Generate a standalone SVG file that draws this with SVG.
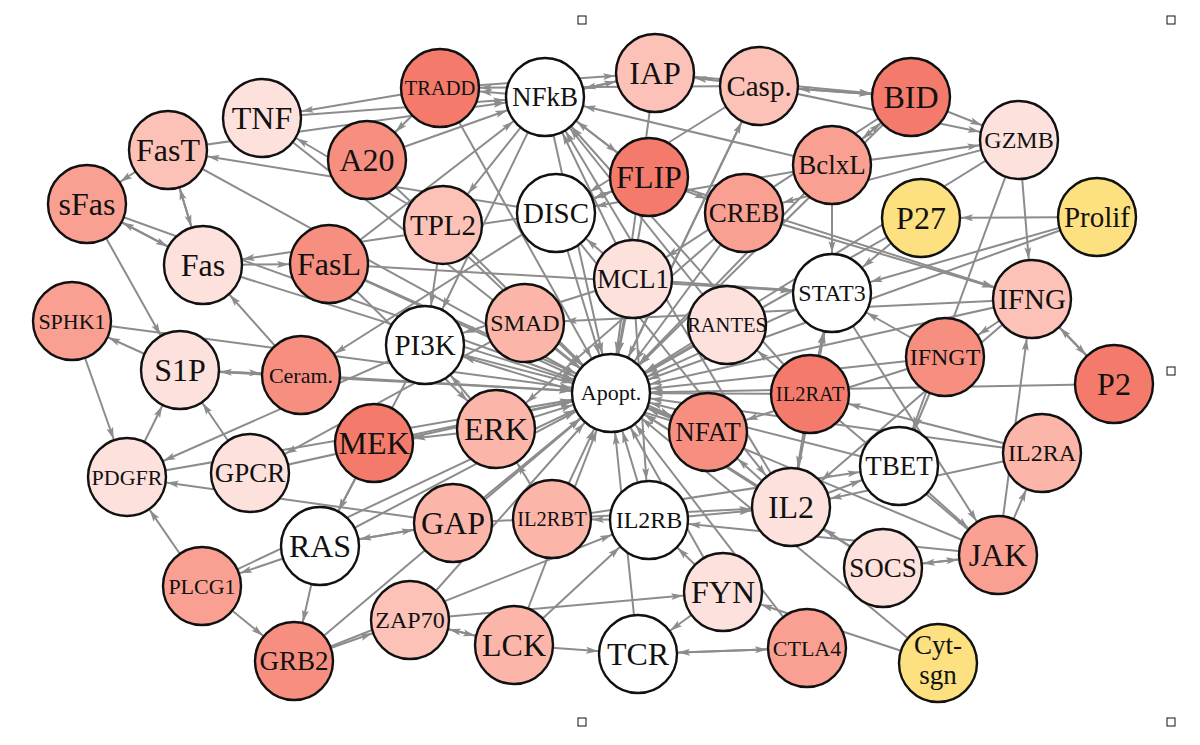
<svg xmlns="http://www.w3.org/2000/svg" width="1200" height="745" viewBox="0 0 1200 745">
<style>
.edges line{stroke:#8c8c8c;stroke-width:2;marker-end:url(#a);fill:none}
.n circle{stroke:#111;stroke-width:2.4}
.n text{font-family:"Liberation Serif","Times New Roman",serif;text-anchor:middle;fill:#111}
.c0{fill:#ffffff}.c1{fill:#fde1dd}.c2{fill:#fcc2b7}.c3{fill:#fcb6a9}.c4{fill:#f9a092}.c5{fill:#f78f81}.c6{fill:#f47b6b}.cy{fill:#fde07f}
.f32{font-size:32px}.f29{font-size:29px}.f27{font-size:27px}.f24{font-size:24px}.f22{font-size:22px}.f20{font-size:20.5px}
.h{fill:#fff;stroke:#111;stroke-width:1}
</style>
<defs>
<marker id="a" viewBox="0 0 12 8" refX="52" refY="4" markerWidth="12" markerHeight="8" markerUnits="userSpaceOnUse" orient="auto">
<path d="M0,0.5 L12,4 L0,7.5 L2.5,4z" fill="#8c8c8c"/>
</marker>
</defs>
<rect width="1200" height="745" fill="#fff"/>
<g id="connectors" class="edges">
<line x1="262" y1="118" x2="611" y2="393"/>
<line x1="168" y1="150" x2="611" y2="393"/>
<line x1="87" y1="204" x2="611" y2="393"/>
<line x1="440" y1="88" x2="611" y2="393"/>
<line x1="545" y1="97" x2="611" y2="393"/>
<line x1="367" y1="160" x2="611" y2="393"/>
<line x1="443" y1="225" x2="611" y2="393"/>
<line x1="556" y1="213" x2="611" y2="393"/>
<line x1="655" y1="73" x2="611" y2="393"/>
<line x1="759" y1="86" x2="611" y2="393"/>
<line x1="911" y1="97" x2="611" y2="393"/>
<line x1="649" y1="177" x2="611" y2="393"/>
<line x1="832" y1="165" x2="611" y2="393"/>
<line x1="744" y1="213" x2="611" y2="393"/>
<line x1="1019" y1="140" x2="611" y2="393"/>
<line x1="921" y1="218" x2="611" y2="393"/>
<line x1="1097" y1="217" x2="611" y2="393"/>
<line x1="203" y1="265" x2="611" y2="393"/>
<line x1="329" y1="264" x2="611" y2="393"/>
<line x1="72" y1="321" x2="611" y2="393"/>
<line x1="180" y1="370" x2="611" y2="393"/>
<line x1="301" y1="375" x2="611" y2="393"/>
<line x1="127" y1="477" x2="611" y2="393"/>
<line x1="250" y1="473" x2="611" y2="393"/>
<line x1="425" y1="345" x2="611" y2="393"/>
<line x1="525" y1="323" x2="611" y2="393"/>
<line x1="374" y1="443" x2="611" y2="393"/>
<line x1="496" y1="429" x2="611" y2="393"/>
<line x1="633" y1="279" x2="611" y2="393"/>
<line x1="727" y1="325" x2="611" y2="393"/>
<line x1="832" y1="293" x2="611" y2="393"/>
<line x1="810" y1="394" x2="611" y2="393"/>
<line x1="708" y1="432" x2="611" y2="393"/>
<line x1="899" y1="466" x2="611" y2="393"/>
<line x1="791" y1="507" x2="611" y2="393"/>
<line x1="1032" y1="299" x2="611" y2="393"/>
<line x1="945" y1="357" x2="611" y2="393"/>
<line x1="1114" y1="384" x2="611" y2="393"/>
<line x1="1042" y1="453" x2="611" y2="393"/>
<line x1="202" y1="586" x2="611" y2="393"/>
<line x1="294" y1="661" x2="611" y2="393"/>
<line x1="320" y1="546" x2="611" y2="393"/>
<line x1="453" y1="523" x2="611" y2="393"/>
<line x1="552" y1="519" x2="611" y2="393"/>
<line x1="410" y1="620" x2="611" y2="393"/>
<line x1="514" y1="645" x2="611" y2="393"/>
<line x1="649" y1="520" x2="611" y2="393"/>
<line x1="723" y1="592" x2="611" y2="393"/>
<line x1="638" y1="654" x2="611" y2="393"/>
<line x1="807" y1="648" x2="611" y2="393"/>
<line x1="883" y1="568" x2="611" y2="393"/>
<line x1="998" y1="555" x2="611" y2="393"/>
<line x1="938" y1="663" x2="611" y2="393"/>
<line x1="611" y1="393" x2="759" y2="86"/>
<line x1="807" y1="648" x2="638" y2="654"/>
<line x1="638" y1="654" x2="807" y2="648"/>
<line x1="744" y1="213" x2="496" y2="429"/>
<line x1="744" y1="213" x2="1032" y2="299"/>
<line x1="945" y1="357" x2="899" y2="466"/>
<line x1="945" y1="357" x2="832" y2="293"/>
<line x1="945" y1="357" x2="708" y2="432"/>
<line x1="1032" y1="299" x2="791" y2="507"/>
<line x1="1032" y1="299" x2="945" y2="357"/>
<line x1="1032" y1="299" x2="525" y2="323"/>
<line x1="1032" y1="299" x2="1114" y2="384"/>
<line x1="1114" y1="384" x2="1032" y2="299"/>
<line x1="1019" y1="140" x2="744" y2="213"/>
<line x1="1019" y1="140" x2="1032" y2="299"/>
<line x1="1019" y1="140" x2="899" y2="466"/>
<line x1="899" y1="466" x2="998" y2="555"/>
<line x1="320" y1="546" x2="294" y2="661"/>
<line x1="320" y1="546" x2="202" y2="586"/>
<line x1="320" y1="546" x2="453" y2="523"/>
<line x1="453" y1="523" x2="320" y2="546"/>
<line x1="453" y1="523" x2="127" y2="477"/>
<line x1="453" y1="523" x2="791" y2="507"/>
<line x1="374" y1="443" x2="320" y2="546"/>
<line x1="496" y1="429" x2="374" y2="443"/>
<line x1="496" y1="429" x2="425" y2="345"/>
<line x1="425" y1="345" x2="127" y2="477"/>
<line x1="425" y1="345" x2="320" y2="546"/>
<line x1="545" y1="97" x2="443" y2="225"/>
<line x1="545" y1="97" x2="425" y2="345"/>
<line x1="545" y1="97" x2="649" y2="177"/>
<line x1="649" y1="177" x2="545" y2="97"/>
<line x1="545" y1="97" x2="440" y2="88"/>
<line x1="545" y1="97" x2="655" y2="73"/>
<line x1="655" y1="73" x2="545" y2="97"/>
<line x1="708" y1="432" x2="425" y2="345"/>
<line x1="727" y1="325" x2="545" y2="97"/>
<line x1="791" y1="507" x2="545" y2="97"/>
<line x1="791" y1="507" x2="832" y2="293"/>
<line x1="791" y1="507" x2="708" y2="432"/>
<line x1="791" y1="507" x2="899" y2="466"/>
<line x1="552" y1="519" x2="496" y2="429"/>
<line x1="552" y1="519" x2="899" y2="466"/>
<line x1="649" y1="520" x2="552" y2="519"/>
<line x1="649" y1="520" x2="791" y2="507"/>
<line x1="810" y1="394" x2="791" y2="507"/>
<line x1="810" y1="394" x2="832" y2="293"/>
<line x1="810" y1="394" x2="545" y2="97"/>
<line x1="1042" y1="453" x2="791" y2="507"/>
<line x1="1042" y1="453" x2="810" y2="394"/>
<line x1="998" y1="555" x2="1042" y2="453"/>
<line x1="998" y1="555" x2="649" y2="520"/>
<line x1="998" y1="555" x2="727" y2="325"/>
<line x1="998" y1="555" x2="1032" y2="299"/>
<line x1="998" y1="555" x2="883" y2="568"/>
<line x1="883" y1="568" x2="998" y2="555"/>
<line x1="883" y1="568" x2="791" y2="507"/>
<line x1="832" y1="293" x2="998" y2="555"/>
<line x1="921" y1="218" x2="832" y2="293"/>
<line x1="1097" y1="217" x2="832" y2="293"/>
<line x1="1097" y1="217" x2="921" y2="218"/>
<line x1="443" y1="225" x2="425" y2="345"/>
<line x1="443" y1="225" x2="262" y2="118"/>
<line x1="262" y1="118" x2="545" y2="97"/>
<line x1="440" y1="88" x2="262" y2="118"/>
<line x1="440" y1="88" x2="655" y2="73"/>
<line x1="440" y1="88" x2="367" y2="160"/>
<line x1="329" y1="264" x2="832" y2="293"/>
<line x1="329" y1="264" x2="545" y2="97"/>
<line x1="329" y1="264" x2="708" y2="432"/>
<line x1="329" y1="264" x2="496" y2="429"/>
<line x1="168" y1="150" x2="545" y2="97"/>
<line x1="203" y1="265" x2="168" y2="150"/>
<line x1="168" y1="150" x2="203" y2="265"/>
<line x1="203" y1="265" x2="329" y2="264"/>
<line x1="203" y1="265" x2="87" y2="204"/>
<line x1="87" y1="204" x2="203" y2="265"/>
<line x1="168" y1="150" x2="87" y2="204"/>
<line x1="87" y1="204" x2="180" y2="370"/>
<line x1="301" y1="375" x2="203" y2="265"/>
<line x1="301" y1="375" x2="180" y2="370"/>
<line x1="180" y1="370" x2="301" y2="375"/>
<line x1="556" y1="213" x2="168" y2="150"/>
<line x1="556" y1="213" x2="203" y2="265"/>
<line x1="556" y1="213" x2="791" y2="507"/>
<line x1="556" y1="213" x2="301" y2="375"/>
<line x1="556" y1="213" x2="649" y2="177"/>
<line x1="649" y1="177" x2="556" y2="213"/>
<line x1="759" y1="86" x2="440" y2="88"/>
<line x1="759" y1="86" x2="1019" y2="140"/>
<line x1="759" y1="86" x2="911" y2="97"/>
<line x1="911" y1="97" x2="759" y2="86"/>
<line x1="759" y1="86" x2="655" y2="73"/>
<line x1="759" y1="86" x2="556" y2="213"/>
<line x1="649" y1="177" x2="744" y2="213"/>
<line x1="649" y1="177" x2="1032" y2="299"/>
<line x1="367" y1="160" x2="545" y2="97"/>
<line x1="911" y1="97" x2="1019" y2="140"/>
<line x1="911" y1="97" x2="832" y2="165"/>
<line x1="832" y1="165" x2="911" y2="97"/>
<line x1="911" y1="97" x2="633" y2="279"/>
<line x1="655" y1="73" x2="911" y2="97"/>
<line x1="832" y1="165" x2="545" y2="97"/>
<line x1="832" y1="165" x2="832" y2="293"/>
<line x1="832" y1="165" x2="1019" y2="140"/>
<line x1="832" y1="165" x2="556" y2="213"/>
<line x1="633" y1="279" x2="649" y2="520"/>
<line x1="633" y1="279" x2="832" y2="293"/>
<line x1="633" y1="279" x2="545" y2="97"/>
<line x1="633" y1="279" x2="425" y2="345"/>
<line x1="633" y1="279" x2="556" y2="213"/>
<line x1="72" y1="321" x2="127" y2="477"/>
<line x1="180" y1="370" x2="72" y2="321"/>
<line x1="250" y1="473" x2="180" y2="370"/>
<line x1="525" y1="323" x2="250" y2="473"/>
<line x1="127" y1="477" x2="180" y2="370"/>
<line x1="723" y1="592" x2="638" y2="654"/>
<line x1="723" y1="592" x2="649" y2="520"/>
<line x1="938" y1="663" x2="723" y2="592"/>
<line x1="514" y1="645" x2="638" y2="654"/>
<line x1="514" y1="645" x2="649" y2="520"/>
<line x1="514" y1="645" x2="410" y2="620"/>
<line x1="410" y1="620" x2="514" y2="645"/>
<line x1="410" y1="620" x2="723" y2="592"/>
<line x1="294" y1="661" x2="649" y2="520"/>
<line x1="294" y1="661" x2="410" y2="620"/>
<line x1="202" y1="586" x2="294" y2="661"/>
<line x1="202" y1="586" x2="127" y2="477"/>
</g>
<g id="handles">
<rect class="h" x="578" y="16" width="8" height="8"/>
<rect class="h" x="1167" y="16" width="8" height="8"/>
<rect class="h" x="1167" y="367" width="8" height="8"/>
<rect class="h" x="578" y="718" width="8" height="8"/>
<rect class="h" x="1167" y="718" width="8" height="8"/>
</g>
<g id="nodes">
<g id="n-TNF" class="n"><circle class="c1" cx="262" cy="118" r="39"/><text class="f32" x="262" y="129">TNF</text></g>
<g id="n-FasT" class="n"><circle class="c2" cx="168" cy="150" r="39"/><text class="f32" x="168" y="161">FasT</text></g>
<g id="n-sFas" class="n"><circle class="c4" cx="87" cy="204" r="39"/><text class="f32" x="87" y="215">sFas</text></g>
<g id="n-TRADD" class="n"><circle class="c6" cx="440" cy="88" r="39"/><text class="f20" x="440" y="95">TRADD</text></g>
<g id="n-NFkB" class="n"><circle class="c0" cx="545" cy="97" r="39"/><text class="f27" x="545" y="106">NFkB</text></g>
<g id="n-A20" class="n"><circle class="c5" cx="367" cy="160" r="39"/><text class="f32" x="367" y="171">A20</text></g>
<g id="n-TPL2" class="n"><circle class="c2" cx="443" cy="225" r="39"/><text class="f29" x="443" y="235">TPL2</text></g>
<g id="n-DISC" class="n"><circle class="c0" cx="556" cy="213" r="39"/><text class="f29" x="556" y="223">DISC</text></g>
<g id="n-IAP" class="n"><circle class="c2" cx="655" cy="73" r="39"/><text class="f32" x="655" y="84">IAP</text></g>
<g id="n-Casp" class="n"><circle class="c2" cx="759" cy="86" r="39"/><text class="f29" x="759" y="96">Casp.</text></g>
<g id="n-BID" class="n"><circle class="c6" cx="911" cy="97" r="39"/><text class="f32" x="911" y="108">BID</text></g>
<g id="n-FLIP" class="n"><circle class="c6" cx="649" cy="177" r="39"/><text class="f32" x="649" y="188">FLIP</text></g>
<g id="n-BclxL" class="n"><circle class="c4" cx="832" cy="165" r="39"/><text class="f27" x="832" y="174">BclxL</text></g>
<g id="n-CREB" class="n"><circle class="c4" cx="744" cy="213" r="39"/><text class="f27" x="744" y="222">CREB</text></g>
<g id="n-GZMB" class="n"><circle class="c1" cx="1019" cy="140" r="39"/><text class="f24" x="1019" y="148">GZMB</text></g>
<g id="n-P27" class="n"><circle class="cy" cx="921" cy="218" r="39"/><text class="f32" x="921" y="229">P27</text></g>
<g id="n-Prolif" class="n"><circle class="cy" cx="1097" cy="217" r="39"/><text class="f29" x="1097" y="227">Prolif</text></g>
<g id="n-Fas" class="n"><circle class="c1" cx="203" cy="265" r="39"/><text class="f32" x="203" y="276">Fas</text></g>
<g id="n-FasL" class="n"><circle class="c5" cx="329" cy="264" r="39"/><text class="f32" x="329" y="275">FasL</text></g>
<g id="n-SPHK1" class="n"><circle class="c4" cx="72" cy="321" r="39"/><text class="f22" x="72" y="329">SPHK1</text></g>
<g id="n-S1P" class="n"><circle class="c1" cx="180" cy="370" r="39"/><text class="f32" x="180" y="381">S1P</text></g>
<g id="n-Ceram" class="n"><circle class="c5" cx="301" cy="375" r="39"/><text class="f22" x="301" y="383">Ceram.</text></g>
<g id="n-PDGFR" class="n"><circle class="c1" cx="127" cy="477" r="39"/><text class="f22" x="127" y="485">PDGFR</text></g>
<g id="n-GPCR" class="n"><circle class="c1" cx="250" cy="473" r="39"/><text class="f27" x="250" y="482">GPCR</text></g>
<g id="n-PI3K" class="n"><circle class="c0" cx="425" cy="345" r="39"/><text class="f29" x="425" y="355">PI3K</text></g>
<g id="n-SMAD" class="n"><circle class="c3" cx="525" cy="323" r="39"/><text class="f24" x="525" y="331">SMAD</text></g>
<g id="n-MEK" class="n"><circle class="c6" cx="374" cy="443" r="39"/><text class="f32" x="374" y="454">MEK</text></g>
<g id="n-ERK" class="n"><circle class="c3" cx="496" cy="429" r="39"/><text class="f32" x="496" y="440">ERK</text></g>
<g id="n-Apopt" class="n"><circle class="c0" cx="611" cy="393" r="39"/><text class="f22" x="611" y="400">Apopt.</text></g>
<g id="n-MCL1" class="n"><circle class="c1" cx="633" cy="279" r="39"/><text class="f27" x="633" y="288">MCL1</text></g>
<g id="n-RANTES" class="n"><circle class="c1" cx="727" cy="325" r="39"/><text class="f20" x="727" y="332">RANTES</text></g>
<g id="n-STAT3" class="n"><circle class="c0" cx="832" cy="293" r="39"/><text class="f24" x="832" y="301">STAT3</text></g>
<g id="n-IL2RAT" class="n"><circle class="c6" cx="810" cy="394" r="39"/><text class="f20" x="810" y="401">IL2RAT</text></g>
<g id="n-NFAT" class="n"><circle class="c5" cx="708" cy="432" r="39"/><text class="f27" x="708" y="441">NFAT</text></g>
<g id="n-TBET" class="n"><circle class="c0" cx="899" cy="466" r="39"/><text class="f27" x="899" y="475">TBET</text></g>
<g id="n-IL2" class="n"><circle class="c1" cx="791" cy="507" r="39"/><text class="f32" x="791" y="518">IL2</text></g>
<g id="n-IFNG" class="n"><circle class="c2" cx="1032" cy="299" r="39"/><text class="f29" x="1032" y="309">IFNG</text></g>
<g id="n-IFNGT" class="n"><circle class="c5" cx="945" cy="357" r="39"/><text class="f24" x="945" y="365">IFNGT</text></g>
<g id="n-P2" class="n"><circle class="c6" cx="1114" cy="384" r="39"/><text class="f32" x="1114" y="395">P2</text></g>
<g id="n-IL2RA" class="n"><circle class="c3" cx="1042" cy="453" r="39"/><text class="f24" x="1042" y="461">IL2RA</text></g>
<g id="n-PLCG1" class="n"><circle class="c4" cx="202" cy="586" r="39"/><text class="f22" x="202" y="594">PLCG1</text></g>
<g id="n-GRB2" class="n"><circle class="c5" cx="294" cy="661" r="39"/><text class="f27" x="294" y="670">GRB2</text></g>
<g id="n-RAS" class="n"><circle class="c0" cx="320" cy="546" r="39"/><text class="f32" x="320" y="557">RAS</text></g>
<g id="n-GAP" class="n"><circle class="c3" cx="453" cy="523" r="39"/><text class="f32" x="453" y="534">GAP</text></g>
<g id="n-IL2RBT" class="n"><circle class="c3" cx="552" cy="519" r="39"/><text class="f20" x="552" y="526">IL2RBT</text></g>
<g id="n-ZAP70" class="n"><circle class="c2" cx="410" cy="620" r="39"/><text class="f24" x="410" y="628">ZAP70</text></g>
<g id="n-LCK" class="n"><circle class="c3" cx="514" cy="645" r="39"/><text class="f32" x="514" y="656">LCK</text></g>
<g id="n-IL2RB" class="n"><circle class="c0" cx="649" cy="520" r="39"/><text class="f24" x="649" y="528">IL2RB</text></g>
<g id="n-FYN" class="n"><circle class="c1" cx="723" cy="592" r="39"/><text class="f32" x="723" y="603">FYN</text></g>
<g id="n-TCR" class="n"><circle class="c0" cx="638" cy="654" r="39"/><text class="f32" x="638" y="665">TCR</text></g>
<g id="n-CTLA4" class="n"><circle class="c4" cx="807" cy="648" r="39"/><text class="f22" x="807" y="656">CTLA4</text></g>
<g id="n-SOCS" class="n"><circle class="c1" cx="883" cy="568" r="39"/><text class="f27" x="883" y="577">SOCS</text></g>
<g id="n-JAK" class="n"><circle class="c4" cx="998" cy="555" r="39"/><text class="f32" x="998" y="566">JAK</text></g>
<g id="n-CytSgn" class="n"><circle class="cy" cx="938" cy="663" r="39"/><text class="f27" x="938" y="654">Cyt-<tspan x="938" dy="30">sgn</tspan></text></g>
</g>
</svg>
